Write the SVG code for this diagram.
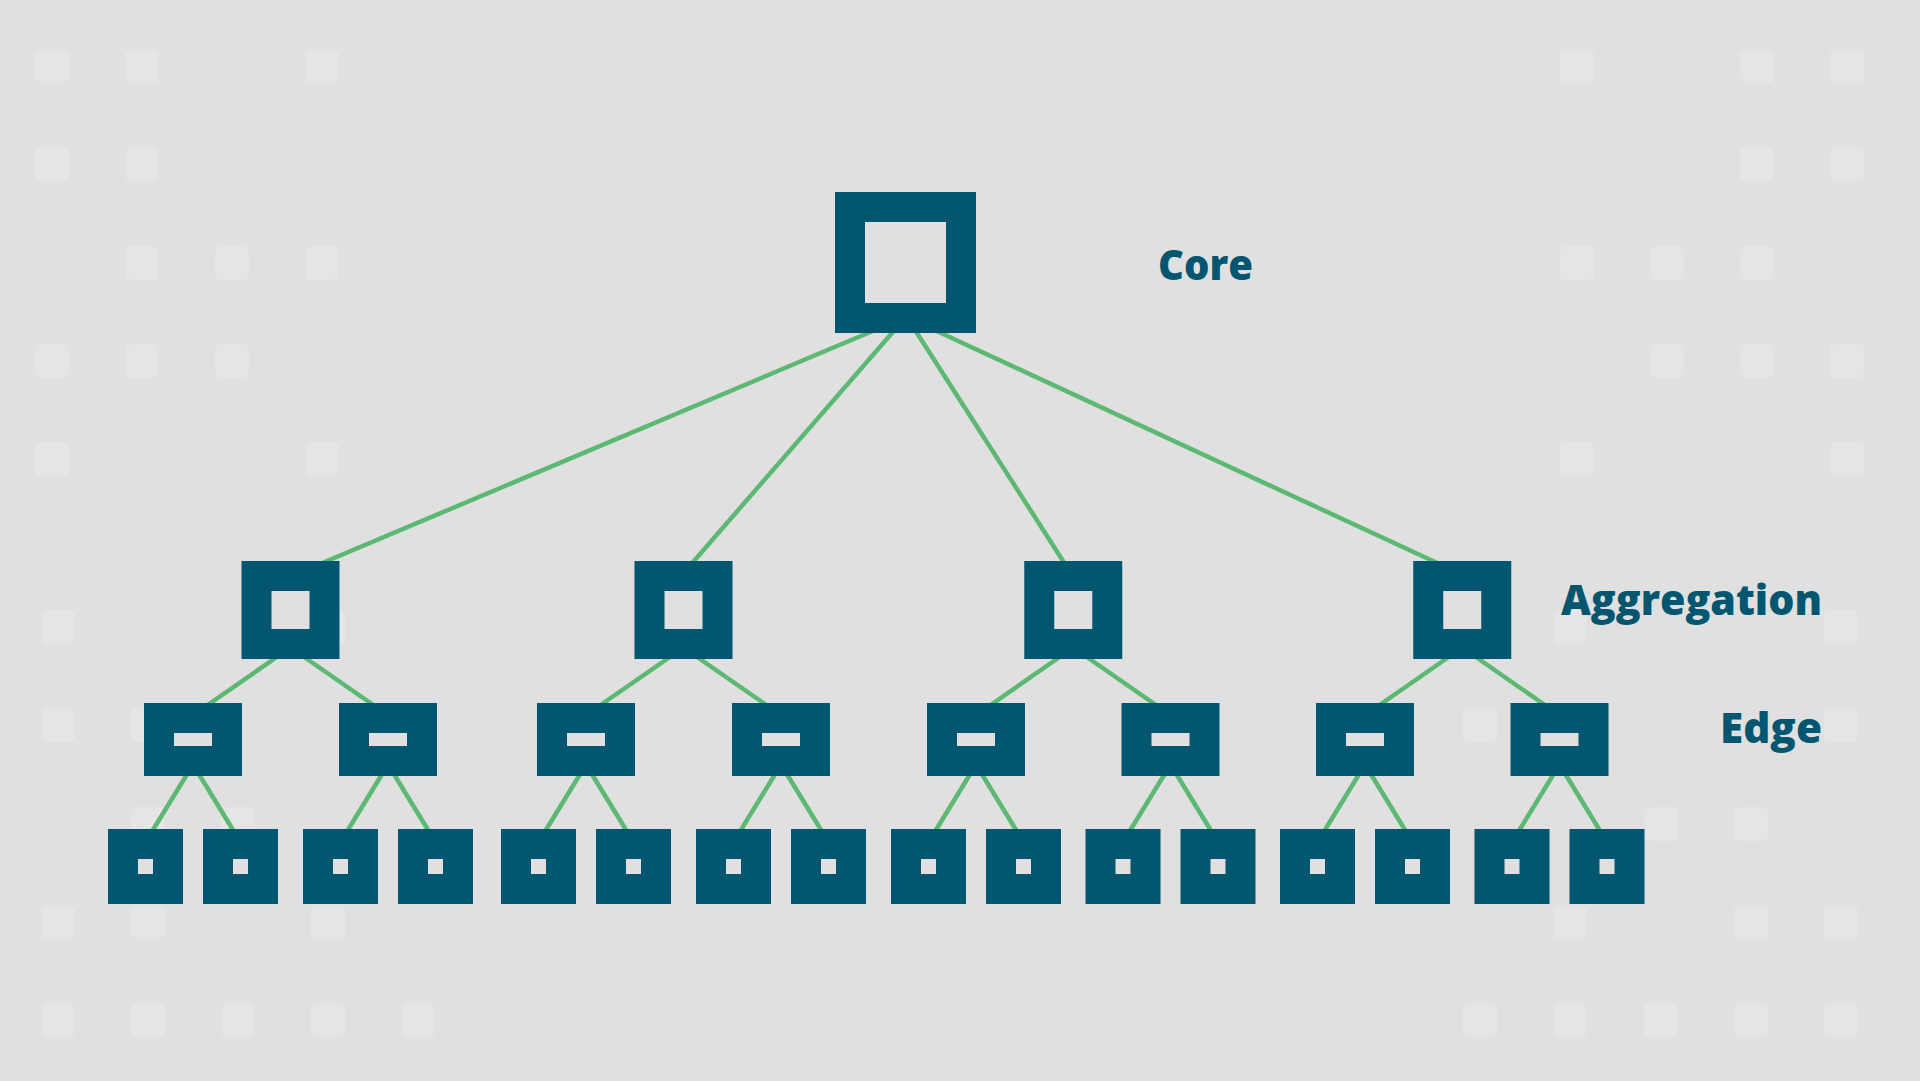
<svg xmlns="http://www.w3.org/2000/svg" xmlns:xlink="http://www.w3.org/1999/xlink" width="1920" height="1081" viewBox="0 0 1920 1081">
  <defs>
    <style>
      .bg { fill: #e0e0e0; }
      .dot { fill: #e5e5e5; }
      .box { fill: none; stroke: #03566f; stroke-width: 30; }
      .link { stroke: #5cb873; stroke-width: 4.5; fill: none; }
      .label { font-family: "Open Sans", "Liberation Sans", sans-serif; font-weight: 800; font-size: 42px; fill: #03566f; }
    </style>
    <rect id="d" width="34" height="34" rx="6" ry="6"/>
  </defs>
  <rect class="bg" x="0" y="0" width="1920" height="1081"/>

  <g id="background-dots" class="dot">
    <use xlink:href="#d" x="35" y="49"/><use xlink:href="#d" x="125" y="49"/><use xlink:href="#d" x="305" y="49"/>
    <use xlink:href="#d" x="35" y="147"/><use xlink:href="#d" x="125" y="147"/>
    <use xlink:href="#d" x="125" y="246"/><use xlink:href="#d" x="215" y="246"/><use xlink:href="#d" x="305" y="246"/>
    <use xlink:href="#d" x="35" y="344"/><use xlink:href="#d" x="125" y="344"/><use xlink:href="#d" x="215" y="344"/>
    <use xlink:href="#d" x="35" y="442"/><use xlink:href="#d" x="305" y="442"/>

    <use xlink:href="#d" x="1560" y="49"/><use xlink:href="#d" x="1740" y="49"/><use xlink:href="#d" x="1830" y="49"/>
    <use xlink:href="#d" x="1740" y="147"/><use xlink:href="#d" x="1830" y="147"/>
    <use xlink:href="#d" x="1560" y="246"/><use xlink:href="#d" x="1650" y="246"/><use xlink:href="#d" x="1740" y="246"/>
    <use xlink:href="#d" x="1650" y="344"/><use xlink:href="#d" x="1740" y="344"/><use xlink:href="#d" x="1830" y="344"/>
    <use xlink:href="#d" x="1560" y="442"/><use xlink:href="#d" x="1830" y="442"/>

    <use xlink:href="#d" x="41" y="610"/><use xlink:href="#d" x="311" y="610"/>
    <use xlink:href="#d" x="41" y="708"/><use xlink:href="#d" x="131" y="708"/>
    <use xlink:href="#d" x="131" y="807"/><use xlink:href="#d" x="221" y="807"/>
    <use xlink:href="#d" x="41" y="905"/><use xlink:href="#d" x="131" y="905"/><use xlink:href="#d" x="311" y="905"/>
    <use xlink:href="#d" x="41" y="1003"/><use xlink:href="#d" x="131" y="1003"/><use xlink:href="#d" x="221" y="1003"/><use xlink:href="#d" x="311" y="1003"/><use xlink:href="#d" x="401" y="1003"/>

    <use xlink:href="#d" x="1553" y="610"/><use xlink:href="#d" x="1824" y="610"/>
    <use xlink:href="#d" x="1463" y="708"/><use xlink:href="#d" x="1824" y="708"/>
    <use xlink:href="#d" x="1644" y="807"/><use xlink:href="#d" x="1734" y="807"/>
    <use xlink:href="#d" x="1553" y="905"/><use xlink:href="#d" x="1734" y="905"/><use xlink:href="#d" x="1824" y="905"/>
    <use xlink:href="#d" x="1463" y="1003"/><use xlink:href="#d" x="1553" y="1003"/><use xlink:href="#d" x="1644" y="1003"/><use xlink:href="#d" x="1734" y="1003"/><use xlink:href="#d" x="1824" y="1003"/>
  </g>

  <g id="connectors" class="link">
    <line x1="877.5" y1="329" x2="317.5" y2="565"/>
    <line x1="895.5" y1="329" x2="690.5" y2="565"/>
    <line x1="914.4" y1="329" x2="1065.6" y2="565"/>
    <line x1="932.4" y1="329" x2="1441.6" y2="565"/>

    <line x1="278.3" y1="656" x2="206.2" y2="706"/>
    <line x1="302.7" y1="656" x2="374.8" y2="706"/>
    <line x1="671.3" y1="656" x2="599.2" y2="706"/>
    <line x1="695.7" y1="656" x2="767.8" y2="706"/>
    <line x1="1061.05" y1="656" x2="989.2" y2="706"/>
    <line x1="1085.45" y1="656" x2="1157.3" y2="706"/>
    <line x1="1450.05" y1="656" x2="1378.2" y2="706"/>
    <line x1="1474.45" y1="656" x2="1546.3" y2="706"/>

    <line x1="187.8" y1="773" x2="151.7" y2="832"/>
    <line x1="198.2" y1="773" x2="234.3" y2="832"/>
    <line x1="382.8" y1="773" x2="346.7" y2="832"/>
    <line x1="393.2" y1="773" x2="429.3" y2="832"/>
    <line x1="580.8" y1="773" x2="544.7" y2="832"/>
    <line x1="591.2" y1="773" x2="627.3" y2="832"/>
    <line x1="775.8" y1="773" x2="739.7" y2="832"/>
    <line x1="786.2" y1="773" x2="822.3" y2="832"/>
    <line x1="970.8" y1="773" x2="934.7" y2="832"/>
    <line x1="981.2" y1="773" x2="1017.3" y2="832"/>
    <line x1="1165.3" y1="773" x2="1129.2" y2="832"/>
    <line x1="1175.7" y1="773" x2="1211.8" y2="832"/>
    <line x1="1359.8" y1="773" x2="1323.7" y2="832"/>
    <line x1="1370.2" y1="773" x2="1406.3" y2="832"/>
    <line x1="1554.3" y1="773" x2="1518.2" y2="832"/>
    <line x1="1564.7" y1="773" x2="1600.8" y2="832"/>
  </g>

  <g id="core"><rect class="box" x="850" y="207" width="111" height="111"/></g>

  <g id="agg-1"><rect class="box" x="256.5" y="576" width="68" height="68"/></g>
  <g id="agg-2"><rect class="box" x="649.5" y="576" width="68" height="68"/></g>
  <g id="agg-3"><rect class="box" x="1039.25" y="576" width="68" height="68"/></g>
  <g id="agg-4"><rect class="box" x="1428.25" y="576" width="68" height="68"/></g>

  <g id="edge-1"><rect class="box" x="159" y="718" width="68" height="43"/></g>
  <g id="edge-2"><rect class="box" x="354" y="718" width="68" height="43"/></g>
  <g id="edge-3"><rect class="box" x="552" y="718" width="68" height="43"/></g>
  <g id="edge-4"><rect class="box" x="747" y="718" width="68" height="43"/></g>
  <g id="edge-5"><rect class="box" x="942" y="718" width="68" height="43"/></g>
  <g id="edge-6"><rect class="box" x="1136.5" y="718" width="68" height="43"/></g>
  <g id="edge-7"><rect class="box" x="1331" y="718" width="68" height="43"/></g>
  <g id="edge-8"><rect class="box" x="1525.5" y="718" width="68" height="43"/></g>

  <g id="host-1"><rect class="box" x="123" y="844" width="45" height="45"/></g>
  <g id="host-2"><rect class="box" x="218" y="844" width="45" height="45"/></g>
  <g id="host-3"><rect class="box" x="318" y="844" width="45" height="45"/></g>
  <g id="host-4"><rect class="box" x="413" y="844" width="45" height="45"/></g>
  <g id="host-5"><rect class="box" x="516" y="844" width="45" height="45"/></g>
  <g id="host-6"><rect class="box" x="611" y="844" width="45" height="45"/></g>
  <g id="host-7"><rect class="box" x="711" y="844" width="45" height="45"/></g>
  <g id="host-8"><rect class="box" x="806" y="844" width="45" height="45"/></g>
  <g id="host-9"><rect class="box" x="906" y="844" width="45" height="45"/></g>
  <g id="host-10"><rect class="box" x="1001" y="844" width="45" height="45"/></g>
  <g id="host-11"><rect class="box" x="1100.5" y="844" width="45" height="45"/></g>
  <g id="host-12"><rect class="box" x="1195.5" y="844" width="45" height="45"/></g>
  <g id="host-13"><rect class="box" x="1295" y="844" width="45" height="45"/></g>
  <g id="host-14"><rect class="box" x="1390" y="844" width="45" height="45"/></g>
  <g id="host-15"><rect class="box" x="1489.5" y="844" width="45" height="45"/></g>
  <g id="host-16"><rect class="box" x="1584.5" y="844" width="45" height="45"/></g>

  <g id="labels">
    <text class="label" x="1158" y="280" textLength="95" lengthAdjust="spacingAndGlyphs">Core</text>
    <text class="label" x="1561" y="615" textLength="261" lengthAdjust="spacingAndGlyphs">Aggregation</text>
    <text class="label" x="1720" y="743" textLength="102" lengthAdjust="spacingAndGlyphs">Edge</text>
  </g>
</svg>
